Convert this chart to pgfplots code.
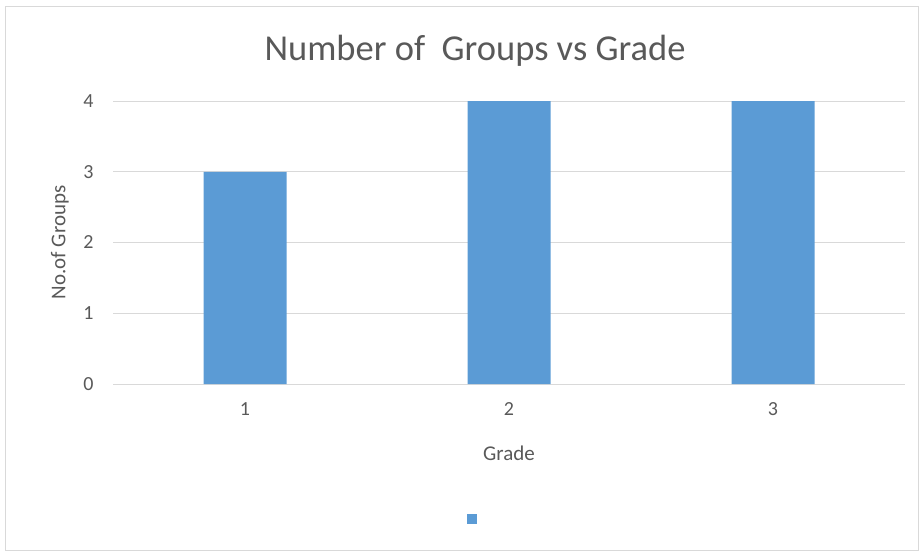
\documentclass[border=0pt]{standalone}
\usepackage{pgfplots}
\pgfplotsset{compat=1.18}
\usepackage{fontspec}
\setmainfont{Carlito}
\definecolor{barblue}{HTML}{5B9BD5}
\definecolor{gridgray}{HTML}{D9D9D9}
\definecolor{txt}{HTML}{595959}
\begin{document}
\begin{tikzpicture}[x=1pt,y=1pt]
\path[use as bounding box] (0,0) rectangle (923,554);
\draw[gridgray, line width=1pt] (5,4) rectangle (918,547);
\node[txt, font=\fontsize{36.5}{40}\selectfont] at (475,503) {Number of\ \ Groups vs Grade};
\begin{axis}[
 at={(113pt,170pt)}, anchor=south west,
 width=792pt, height=283pt, scale only axis,
 xmin=0.5, xmax=3.5, ymin=0, ymax=4,
 ybar, bar width=83pt,
 xtick={1,2,3}, ytick={0,1,2,3,4},
 major tick length=0pt,
 ymajorgrids, grid style={gridgray, line width=1pt},
 axis x line*=bottom, axis y line*=left,
 axis line style={gridgray, line width=1pt},
 y axis line style={draw=none},
 /pgf/number format/assume math mode=true,
 ticklabel style={txt, font=\fontsize{20}{24}\selectfont},
 yticklabel style={xshift=-16pt},
 xticklabel style={yshift=-15pt},
 xlabel={Grade}, ylabel={No.of Groups},
 label style={txt, font=\fontsize{21}{25}\selectfont},
 xlabel style={at={(axis description cs:0.5,-0.244)}, anchor=center},
 ylabel style={at={(axis description cs:-0.067,0.5)}, anchor=center, rotate=0},
 legend style={at={(axis description cs:0.4545,-0.477)}, anchor=center, draw=none, fill=none, inner sep=0pt, nodes={inner sep=0pt}},
 legend image code/.code={\fill[barblue] (-5pt,-5pt) rectangle (5pt,5pt);},
]
\addplot[fill=barblue, draw=none] coordinates {(1,3) (2,4) (3,4)};
\addlegendentry{}
\end{axis}
\end{tikzpicture}
\end{document}
